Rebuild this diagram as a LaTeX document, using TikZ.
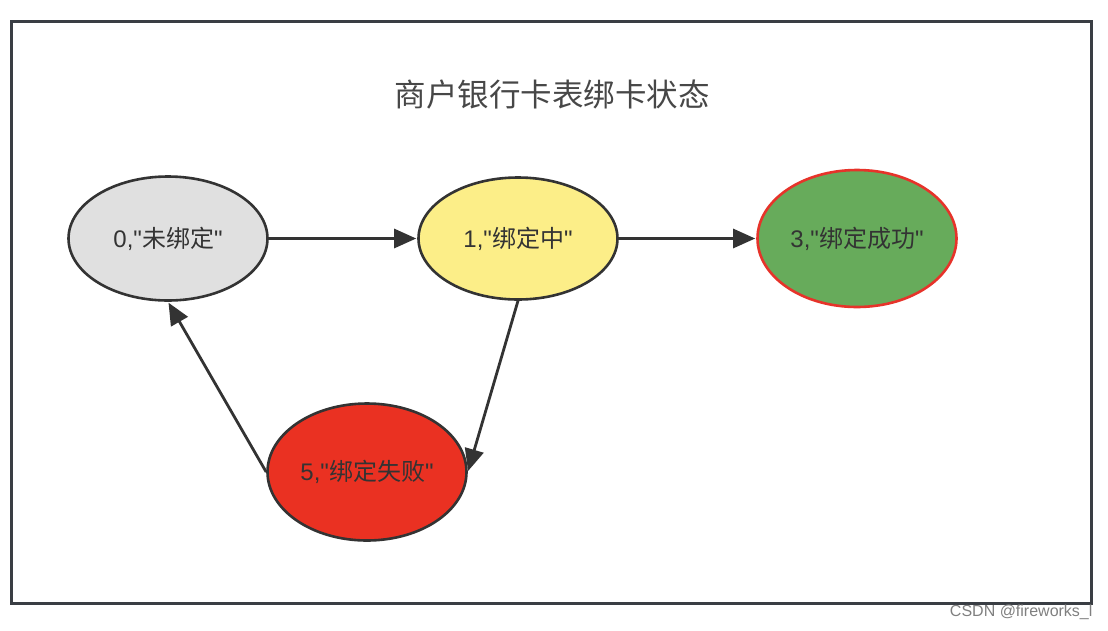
\documentclass[tikz,border=0pt]{standalone}
\usepackage{fontspec}
\setmainfont{Liberation Sans}[Ligatures=TeXOff]
\newfontfamily\cjk{Noto Sans CJK SC}[Ligatures=TeXOff]
\newfontfamily\wmfont{Liberation Sans}
\usetikzlibrary{arrows.meta,shapes.geometric}
\definecolor{ink}{HTML}{333333}
\definecolor{grayfill}{HTML}{E0E0E0}
\definecolor{yellowfill}{HTML}{FCEE88}
\definecolor{greenfill}{HTML}{67AB5B}
\definecolor{redfill}{HTML}{EA3122}
\definecolor{redline}{HTML}{E6332A}
\definecolor{framecol}{HTML}{3A3E44}
\tikzset{
  state/.style={ellipse, draw=ink, line width=2.6pt, inner ysep=0pt, inner xsep=-40pt,
    font=\fontsize{24}{28}\selectfont, text=ink},
  flow/.style={draw=ink, line width=2.8pt,
    -{Triangle[length=22pt,width=19pt]}, shorten >=1pt},
}
\begin{document}
\begin{tikzpicture}[x=1pt,y=-1pt]
\useasboundingbox (0,0) rectangle (1108,630);
\draw[framecol, line width=3pt] (11.5,21.5) rectangle (1091,603.5);
\node[text=ink!90, font=\cjk\fontsize{31.5}{36}\selectfont] (title) at (552,95) {商户银行卡表绑卡状态};
\node[state, fill=grayfill, minimum width=199pt, minimum height=124pt] (s0) at (168,238.5) {0,"{\cjk 未绑定}"};
\node[state, fill=yellowfill, minimum width=199pt, minimum height=122pt] (s1) at (518,238.5) {1,"{\cjk 绑定中}"};
\node[state, fill=greenfill, draw=redline, minimum width=199pt, minimum height=137pt] (s3) at (857,238.5) {3,"{\cjk 绑定成功}"};
\node[state, fill=redfill, minimum width=199pt, minimum height=137pt] (s5) at (367,472) {5,"{\cjk 绑定失败}"};
\draw[flow] (s0.east) -- (s1.west);
\draw[flow] (s1.east) -- (s3.west);
\draw[flow] (s1.south) -- (s5.east);
\draw[flow] (s5.west) -- (s0.south);
\node[anchor=east, text=black!50, font=\wmfont\fontsize{16}{18}\selectfont] (wm) at (1096,612) {CSDN @fireworks\_l};
\end{tikzpicture}
\end{document}
